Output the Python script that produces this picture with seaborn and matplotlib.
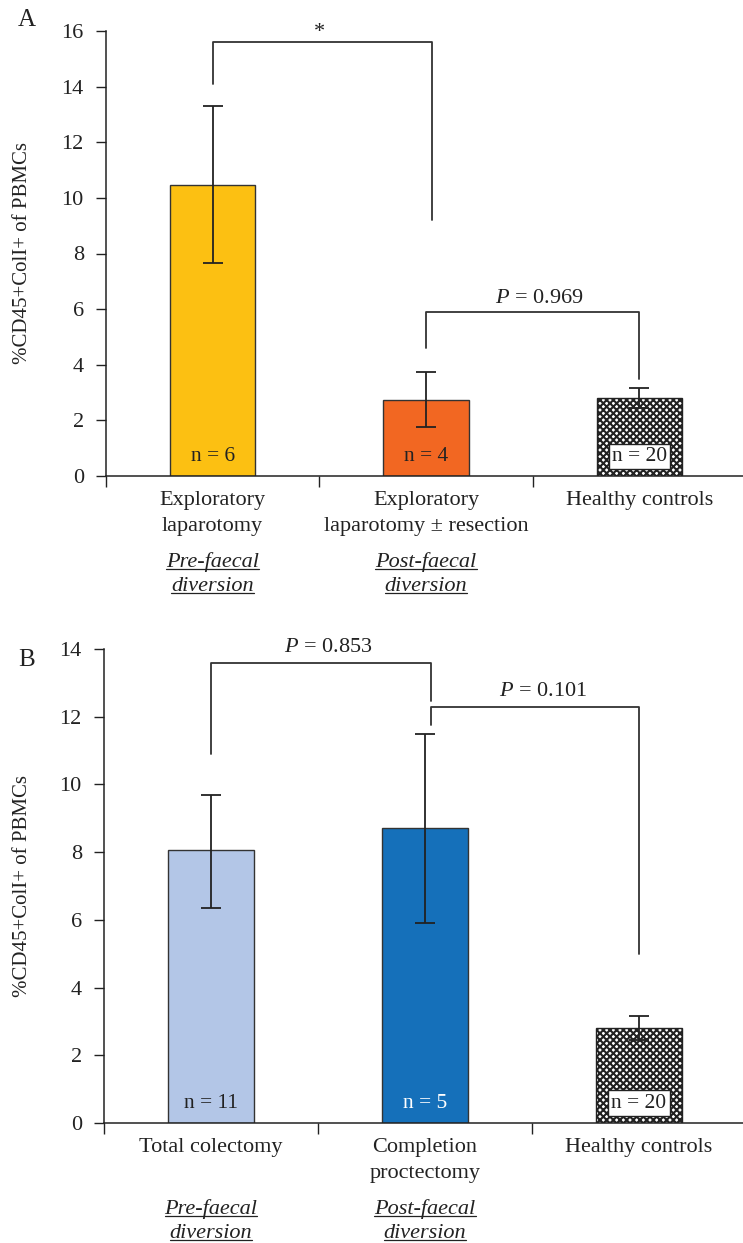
import matplotlib
matplotlib.use("Agg")
import matplotlib.pyplot as plt
import seaborn as sns
import numpy as np
from matplotlib.lines import Line2D

sns.set_style("white")
plt.rcParams['font.family'] = ['Liberation Serif', 'DejaVu Serif']
plt.rcParams['mathtext.fontset'] = 'custom'
plt.rcParams['mathtext.rm'] = 'Liberation Serif'
plt.rcParams['mathtext.it'] = 'Liberation Serif:italic'
plt.rcParams['hatch.linewidth'] = 1.5
plt.rcParams['hatch.color'] = 'black'

# ---------------- data ----------------
cats_a = ["Exploratory\nlaparotomy", "Exploratory\nlaparotomy \u00b1 resection", "Healthy controls"]
vals_a = [10.45, 2.75, 2.8]
err_lo_a = [7.65, 1.75, 2.45]
err_hi_a = [13.3, 3.75, 3.15]
n_a = ["n = 6", "n = 4", "n = 20"]
colors_a = ["#FCC012", "#F26722", "white"]

cats_b = ["Total colectomy", "Completion\nproctectomy", "Healthy controls"]
vals_b = [8.05, 8.7, 2.8]
err_lo_b = [6.35, 5.9, 2.45]
err_hi_b = [9.7, 11.5, 3.15]
n_b = ["n = 11", "n = 5", "n = 20"]
colors_b = ["#B3C6E7", "#1570BA", "white"]
n_colors_b = ["#222222", "white", "#222222"]

sub_labels = [("Pre-faecal", "diversion"), ("Post-faecal", "diversion")]

# brackets: (x_left, x_right, y_left_end, y_top, y_right_end, label, label_x, label_y, va)
brackets_a = [
    (0.0, 1.03, 14.1, 15.6, 9.2, "*", 0.5, 15.95, "center"),
    (1.0, 2.0, 4.6, 5.9, 3.5, "$\\mathit{P}$ = 0.969", 1.53, 6.05, "bottom"),
]
brackets_b = [
    (0.0, 1.03, 10.9, 13.6, 12.45, "$\\mathit{P}$ = 0.853", 0.55, 13.75, "bottom"),
    (1.03, 2.0, 11.75, 12.3, 5.0, "$\\mathit{P}$ = 0.101", 1.55, 12.45, "bottom"),
]

ylab = "%CD45+ColI+ of PBMCs"

W, H = 743, 1243
fig = plt.figure(figsize=(W / 100, H / 100), dpi=100)

ax_a = fig.add_axes([106 / W, (H - 476) / H, (746 - 106) / W, 445 / H])
ax_b = fig.add_axes([104 / W, (H - 1123) / H, (746 - 104) / W, 474 / H])

FS = 16
TEXTC = "#222222"
underline_texts = []


def draw_panel(ax, cats, vals, lo, hi, colors, nlabels, ncolors, ymax, brackets):
    sns.barplot(x=cats, y=vals, hue=cats, palette=colors, width=0.4,
                edgecolor="#333333", linewidth=1.0, legend=False, ax=ax,
                errorbar=None, saturation=1)
    bars = [c.patches[0] for c in ax.containers]
    bars[2].set_hatch("xxxxx")
    bars[2].set_facecolor("white")
    bars[2].set_edgecolor("#222222")
    vals = np.array(vals)
    yerr = [vals - np.array(lo), np.array(hi) - vals]
    ax.errorbar(x=np.arange(3), y=vals, yerr=yerr, fmt="none", ecolor="#222222",
                elinewidth=1.3, capsize=7, capthick=1.3, zorder=5)
    ax.set_xlim(-0.5, 2.5)
    ax.set_ylim(0, ymax)
    ax.set_yticks(np.arange(0, ymax + 1, 2))
    ax.tick_params(axis="y", which="major", direction="out", length=7, width=1,
                   labelsize=FS, pad=9, colors=TEXTC, left=True)
    ax.set_xticks([0, 1, 2])
    ax.set_xticklabels(cats, fontsize=FS, color=TEXTC, linespacing=1.45)
    ax.tick_params(axis="x", which="major", length=0, pad=11)
    ax.set_xticks([-0.5, 0.5, 1.5, 2.5], minor=True)
    ax.tick_params(axis="x", which="minor", direction="out", length=8, width=1,
                   bottom=True, color="#222222")
    for s in ["top", "right"]:
        ax.spines[s].set_visible(False)
    for s in ["left", "bottom"]:
        ax.spines[s].set_color("#222222")
        ax.spines[s].set_linewidth(1.1)
    ax.set_ylabel(ylab, fontsize=15, color=TEXTC)
    ax.set_xlabel("")
    for i, (lab, col) in enumerate(zip(nlabels, ncolors)):
        kw = {}
        if i == 2:
            kw = dict(bbox=dict(boxstyle="square,pad=0.15", fc="white", ec="#222222", lw=1.0))
        ax.text(i, 0.022, lab, transform=ax.get_xaxis_transform(), ha="center",
                va="bottom", fontsize=FS - 0.5, color=col, zorder=6, **kw)
    for (x0, x1, y0, yt, y1, lab, lx, ly, va) in brackets:
        ax.plot([x0, x0, x1, x1], [y0, yt, yt, y1], color="#333333", lw=1.3,
                clip_on=False, zorder=4)
        ax.text(lx, ly, lab, ha="center", va=va, fontsize=FS, color=TEXTC)
    for i, (l1, l2) in enumerate(sub_labels):
        for k, line in enumerate((l1, l2)):
            t = ax.annotate(line, xy=(i, 0), xycoords=("data", "axes fraction"),
                            xytext=(0, -55 - k * 18), textcoords="offset points",
                            ha="center", va="top", fontsize=FS, style="italic",
                            color=TEXTC)
            underline_texts.append(t)


draw_panel(ax_a, cats_a, vals_a, err_lo_a, err_hi_a, colors_a, n_a,
           [TEXTC, TEXTC, TEXTC], 16, brackets_a)
draw_panel(ax_b, cats_b, vals_b, err_lo_b, err_hi_b, colors_b, n_b,
           n_colors_b, 14, brackets_b)

ax_a.yaxis.set_label_coords(-0.115, 0.5)
ax_b.yaxis.set_label_coords(-0.112, 0.5)

fig.text(27 / W, 1 - 20 / H, "A", fontsize=18, ha="center", va="center", color=TEXTC)
fig.text(27 / W, 1 - 660 / H, "B", fontsize=18, ha="center", va="center", color=TEXTC)

fig.canvas.draw()
r = fig.canvas.get_renderer()
for t in underline_texts:
    bb = t.get_window_extent(r)
    y = (bb.y0 + 3) / H
    fig.add_artist(Line2D([bb.x0 / W, bb.x1 / W], [y, y], color=TEXTC, lw=0.9))

fig.savefig("out.png", dpi=100)
